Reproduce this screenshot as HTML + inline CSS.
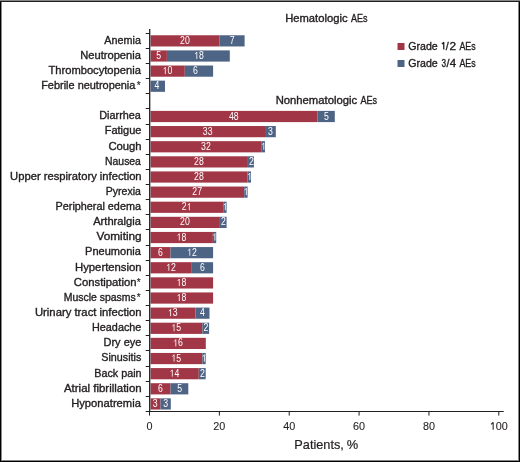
<!DOCTYPE html><html><head><meta charset="utf-8"><style>
html,body{margin:0;padding:0;background:#fff;}
body{width:520px;height:462px;overflow:hidden;position:relative;}
svg{position:absolute;left:0;top:0;display:block;will-change:transform;}
text{font-family:"Liberation Sans",sans-serif;}
.t{stroke:#231f20;stroke-width:0.35px;}
.w{}
.s{stroke:#231f20;stroke-width:0.15px;}
.tk{stroke:#231f20;stroke-width:0.1px;}
.tp{stroke:#231f20;stroke-width:0.2px;}
</style></head><body>
<svg width="520" height="462" viewBox="0 0 520 462">
<rect x="0" y="0" width="520" height="462" fill="#fff"/>
<rect x="150.60" y="35.26" width="69.00" height="11.2" fill="#a13746"/>
<g transform="translate(184.93 43.86) scale(0.87 1)"><text x="-5.56" y="0" font-size="10.0" class="w" fill="#fff">2</text><text x="0.00" y="0" font-size="10.0" class="w" fill="#fff">0</text></g>
<rect x="219.60" y="35.26" width="25.00" height="11.2" fill="#4e6485"/>
<g transform="translate(232.09 43.86) scale(0.87 1)"><text x="-2.78" y="0" font-size="10.0" class="w" fill="#fff">7</text></g>
<rect x="150.60" y="50.39" width="16.30" height="11.2" fill="#a13746"/>
<g transform="translate(158.73 58.99) scale(0.87 1)"><text x="-2.78" y="0" font-size="10.0" class="w" fill="#fff">5</text></g>
<rect x="166.90" y="50.39" width="62.90" height="11.2" fill="#4e6485"/>
<g transform="translate(198.90 58.99) scale(0.87 1)"><path d="M-2.45 0V-6.88L-4.34 -4.95" stroke="#fff" stroke-width="0.88" fill="none" stroke-linejoin="bevel"/><text x="0.00" y="0" font-size="10.0" class="w" fill="#fff">8</text></g>
<rect x="150.60" y="65.52" width="34.20" height="11.2" fill="#a13746"/>
<g transform="translate(167.47 74.12) scale(0.87 1)"><path d="M-2.45 0V-6.88L-4.34 -4.95" stroke="#fff" stroke-width="0.88" fill="none" stroke-linejoin="bevel"/><text x="0.00" y="0" font-size="10.0" class="w" fill="#fff">0</text></g>
<rect x="184.80" y="65.52" width="28.30" height="11.2" fill="#4e6485"/>
<g transform="translate(195.41 74.12) scale(0.87 1)"><text x="-2.78" y="0" font-size="10.0" class="w" fill="#fff">6</text></g>
<rect x="150.60" y="80.65" width="14.40" height="11.2" fill="#4e6485"/>
<g transform="translate(156.99 89.25) scale(0.87 1)"><text x="-2.78" y="0" font-size="10.0" class="w" fill="#fff">4</text></g>
<rect x="150.60" y="110.90" width="166.90" height="11.2" fill="#a13746"/>
<g transform="translate(233.83 119.50) scale(0.87 1)"><text x="-5.56" y="0" font-size="10.0" class="w" fill="#fff">4</text><text x="0.00" y="0" font-size="10.0" class="w" fill="#fff">8</text></g>
<rect x="317.50" y="110.90" width="17.30" height="11.2" fill="#4e6485"/>
<g transform="translate(326.40 119.50) scale(0.87 1)"><text x="-2.78" y="0" font-size="10.0" class="w" fill="#fff">5</text></g>
<rect x="150.60" y="126.03" width="114.40" height="11.2" fill="#a13746"/>
<g transform="translate(207.63 134.63) scale(0.87 1)"><text x="-5.56" y="0" font-size="10.0" class="w" fill="#fff">3</text><text x="0.00" y="0" font-size="10.0" class="w" fill="#fff">3</text></g>
<rect x="265.00" y="126.03" width="10.80" height="11.2" fill="#4e6485"/>
<g transform="translate(270.51 134.63) scale(0.87 1)"><text x="-2.78" y="0" font-size="10.0" class="w" fill="#fff">3</text></g>
<rect x="150.60" y="141.16" width="110.60" height="11.2" fill="#a13746"/>
<g transform="translate(205.89 149.76) scale(0.87 1)"><text x="-5.56" y="0" font-size="10.0" class="w" fill="#fff">3</text><text x="0.00" y="0" font-size="10.0" class="w" fill="#fff">2</text></g>
<rect x="261.20" y="141.16" width="3.80" height="11.2" fill="#4e6485"/>
<g transform="translate(263.52 149.76) scale(0.87 1)"><path d="M0.33 0V-6.88L-1.56 -4.95" stroke="#fff" stroke-width="0.88" fill="none" stroke-linejoin="bevel"/></g>
<rect x="150.60" y="156.29" width="97.30" height="11.2" fill="#a13746"/>
<g transform="translate(198.90 164.89) scale(0.87 1)"><text x="-5.56" y="0" font-size="10.0" class="w" fill="#fff">2</text><text x="0.00" y="0" font-size="10.0" class="w" fill="#fff">8</text></g>
<rect x="247.90" y="156.29" width="6.00" height="11.2" fill="#4e6485"/>
<g transform="translate(251.30 164.89) scale(0.87 1)"><text x="-2.78" y="0" font-size="10.0" class="w" fill="#fff">2</text></g>
<rect x="150.60" y="171.42" width="97.00" height="11.2" fill="#a13746"/>
<g transform="translate(198.90 180.02) scale(0.87 1)"><text x="-5.56" y="0" font-size="10.0" class="w" fill="#fff">2</text><text x="0.00" y="0" font-size="10.0" class="w" fill="#fff">8</text></g>
<rect x="247.60" y="171.42" width="3.40" height="11.2" fill="#4e6485"/>
<g transform="translate(249.55 180.02) scale(0.87 1)"><path d="M0.33 0V-6.88L-1.56 -4.95" stroke="#fff" stroke-width="0.88" fill="none" stroke-linejoin="bevel"/></g>
<rect x="150.60" y="186.54" width="93.60" height="11.2" fill="#a13746"/>
<g transform="translate(197.16 195.14) scale(0.87 1)"><text x="-5.56" y="0" font-size="10.0" class="w" fill="#fff">2</text><text x="0.00" y="0" font-size="10.0" class="w" fill="#fff">7</text></g>
<rect x="244.20" y="186.54" width="3.40" height="11.2" fill="#4e6485"/>
<g transform="translate(246.06 195.14) scale(0.87 1)"><path d="M0.33 0V-6.88L-1.56 -4.95" stroke="#fff" stroke-width="0.88" fill="none" stroke-linejoin="bevel"/></g>
<rect x="150.60" y="201.67" width="72.60" height="11.2" fill="#a13746"/>
<g transform="translate(186.68 210.27) scale(0.87 1)"><text x="-5.56" y="0" font-size="10.0" class="w" fill="#fff">2</text><path d="M3.11 0V-6.88L1.22 -4.95" stroke="#fff" stroke-width="0.88" fill="none" stroke-linejoin="bevel"/></g>
<rect x="223.20" y="201.67" width="3.40" height="11.2" fill="#4e6485"/>
<g transform="translate(225.10 210.27) scale(0.87 1)"><path d="M0.33 0V-6.88L-1.56 -4.95" stroke="#fff" stroke-width="0.88" fill="none" stroke-linejoin="bevel"/></g>
<rect x="150.60" y="216.80" width="69.30" height="11.2" fill="#a13746"/>
<g transform="translate(184.93 225.40) scale(0.87 1)"><text x="-5.56" y="0" font-size="10.0" class="w" fill="#fff">2</text><text x="0.00" y="0" font-size="10.0" class="w" fill="#fff">0</text></g>
<rect x="219.90" y="216.80" width="6.70" height="11.2" fill="#4e6485"/>
<g transform="translate(223.35 225.40) scale(0.87 1)"><text x="-2.78" y="0" font-size="10.0" class="w" fill="#fff">2</text></g>
<rect x="150.60" y="231.93" width="62.30" height="11.2" fill="#a13746"/>
<g transform="translate(181.44 240.53) scale(0.87 1)"><path d="M-2.45 0V-6.88L-4.34 -4.95" stroke="#fff" stroke-width="0.88" fill="none" stroke-linejoin="bevel"/><text x="0.00" y="0" font-size="10.0" class="w" fill="#fff">8</text></g>
<rect x="212.90" y="231.93" width="3.30" height="11.2" fill="#4e6485"/>
<g transform="translate(214.62 240.53) scale(0.87 1)"><path d="M0.33 0V-6.88L-1.56 -4.95" stroke="#fff" stroke-width="0.88" fill="none" stroke-linejoin="bevel"/></g>
<rect x="150.60" y="247.06" width="19.90" height="11.2" fill="#a13746"/>
<g transform="translate(160.48 255.66) scale(0.87 1)"><text x="-2.78" y="0" font-size="10.0" class="w" fill="#fff">6</text></g>
<rect x="170.50" y="247.06" width="42.60" height="11.2" fill="#4e6485"/>
<g transform="translate(191.92 255.66) scale(0.87 1)"><path d="M-2.45 0V-6.88L-4.34 -4.95" stroke="#fff" stroke-width="0.88" fill="none" stroke-linejoin="bevel"/><text x="0.00" y="0" font-size="10.0" class="w" fill="#fff">2</text></g>
<rect x="150.60" y="262.18" width="41.20" height="11.2" fill="#a13746"/>
<g transform="translate(170.96 270.78) scale(0.87 1)"><path d="M-2.45 0V-6.88L-4.34 -4.95" stroke="#fff" stroke-width="0.88" fill="none" stroke-linejoin="bevel"/><text x="0.00" y="0" font-size="10.0" class="w" fill="#fff">2</text></g>
<rect x="191.80" y="262.18" width="21.30" height="11.2" fill="#4e6485"/>
<g transform="translate(202.39 270.78) scale(0.87 1)"><text x="-2.78" y="0" font-size="10.0" class="w" fill="#fff">6</text></g>
<rect x="150.60" y="277.31" width="62.50" height="11.2" fill="#a13746"/>
<g transform="translate(181.44 285.91) scale(0.87 1)"><path d="M-2.45 0V-6.88L-4.34 -4.95" stroke="#fff" stroke-width="0.88" fill="none" stroke-linejoin="bevel"/><text x="0.00" y="0" font-size="10.0" class="w" fill="#fff">8</text></g>
<rect x="150.60" y="292.44" width="62.50" height="11.2" fill="#a13746"/>
<g transform="translate(181.44 301.04) scale(0.87 1)"><path d="M-2.45 0V-6.88L-4.34 -4.95" stroke="#fff" stroke-width="0.88" fill="none" stroke-linejoin="bevel"/><text x="0.00" y="0" font-size="10.0" class="w" fill="#fff">8</text></g>
<rect x="150.60" y="307.57" width="44.80" height="11.2" fill="#a13746"/>
<g transform="translate(172.70 316.17) scale(0.87 1)"><path d="M-2.45 0V-6.88L-4.34 -4.95" stroke="#fff" stroke-width="0.88" fill="none" stroke-linejoin="bevel"/><text x="0.00" y="0" font-size="10.0" class="w" fill="#fff">3</text></g>
<rect x="195.40" y="307.57" width="14.10" height="11.2" fill="#4e6485"/>
<g transform="translate(202.39 316.17) scale(0.87 1)"><text x="-2.78" y="0" font-size="10.0" class="w" fill="#fff">4</text></g>
<rect x="150.60" y="322.70" width="51.70" height="11.2" fill="#a13746"/>
<g transform="translate(176.20 331.30) scale(0.87 1)"><path d="M-2.45 0V-6.88L-4.34 -4.95" stroke="#fff" stroke-width="0.88" fill="none" stroke-linejoin="bevel"/><text x="0.00" y="0" font-size="10.0" class="w" fill="#fff">5</text></g>
<rect x="202.30" y="322.70" width="6.80" height="11.2" fill="#4e6485"/>
<g transform="translate(205.89 331.30) scale(0.87 1)"><text x="-2.78" y="0" font-size="10.0" class="w" fill="#fff">2</text></g>
<rect x="150.60" y="337.82" width="55.20" height="11.2" fill="#a13746"/>
<g transform="translate(177.94 346.42) scale(0.87 1)"><path d="M-2.45 0V-6.88L-4.34 -4.95" stroke="#fff" stroke-width="0.88" fill="none" stroke-linejoin="bevel"/><text x="0.00" y="0" font-size="10.0" class="w" fill="#fff">6</text></g>
<rect x="150.60" y="352.95" width="51.70" height="11.2" fill="#a13746"/>
<g transform="translate(176.20 361.55) scale(0.87 1)"><path d="M-2.45 0V-6.88L-4.34 -4.95" stroke="#fff" stroke-width="0.88" fill="none" stroke-linejoin="bevel"/><text x="0.00" y="0" font-size="10.0" class="w" fill="#fff">5</text></g>
<rect x="202.30" y="352.95" width="3.40" height="11.2" fill="#4e6485"/>
<g transform="translate(204.14 361.55) scale(0.87 1)"><path d="M0.33 0V-6.88L-1.56 -4.95" stroke="#fff" stroke-width="0.88" fill="none" stroke-linejoin="bevel"/></g>
<rect x="150.60" y="368.08" width="48.20" height="11.2" fill="#a13746"/>
<g transform="translate(174.45 376.68) scale(0.87 1)"><path d="M-2.45 0V-6.88L-4.34 -4.95" stroke="#fff" stroke-width="0.88" fill="none" stroke-linejoin="bevel"/><text x="0.00" y="0" font-size="10.0" class="w" fill="#fff">4</text></g>
<rect x="198.80" y="368.08" width="6.90" height="11.2" fill="#4e6485"/>
<g transform="translate(202.39 376.68) scale(0.87 1)"><text x="-2.78" y="0" font-size="10.0" class="w" fill="#fff">2</text></g>
<rect x="150.60" y="383.21" width="19.90" height="11.2" fill="#a13746"/>
<g transform="translate(160.48 391.81) scale(0.87 1)"><text x="-2.78" y="0" font-size="10.0" class="w" fill="#fff">6</text></g>
<rect x="170.50" y="383.21" width="17.80" height="11.2" fill="#4e6485"/>
<g transform="translate(179.69 391.81) scale(0.87 1)"><text x="-2.78" y="0" font-size="10.0" class="w" fill="#fff">5</text></g>
<rect x="150.60" y="398.34" width="9.90" height="11.2" fill="#a13746"/>
<g transform="translate(155.24 406.94) scale(0.87 1)"><text x="-2.78" y="0" font-size="10.0" class="w" fill="#fff">3</text></g>
<rect x="160.50" y="398.34" width="10.30" height="11.2" fill="#4e6485"/>
<g transform="translate(165.72 406.94) scale(0.87 1)"><text x="-2.78" y="0" font-size="10.0" class="w" fill="#fff">3</text></g>
<g stroke="#231f20" stroke-width="1.2" fill="none">
<line x1="149.7" y1="29" x2="149.7" y2="412" stroke-width="1.3"/>
<line x1="149.4" y1="411.5" x2="503.7" y2="411.5"/>
<line x1="145.7" y1="33.50" x2="150.0" y2="33.50" stroke-width="1"/>
<line x1="145.7" y1="48.50" x2="150.0" y2="48.50" stroke-width="1"/>
<line x1="145.7" y1="63.50" x2="150.0" y2="63.50" stroke-width="1"/>
<line x1="145.7" y1="78.50" x2="150.0" y2="78.50" stroke-width="1"/>
<line x1="145.7" y1="93.50" x2="150.0" y2="93.50" stroke-width="1"/>
<line x1="145.7" y1="108.50" x2="150.0" y2="108.50" stroke-width="1"/>
<line x1="145.7" y1="124.50" x2="150.0" y2="124.50" stroke-width="1"/>
<line x1="145.7" y1="139.50" x2="150.0" y2="139.50" stroke-width="1"/>
<line x1="145.7" y1="154.50" x2="150.0" y2="154.50" stroke-width="1"/>
<line x1="145.7" y1="169.50" x2="150.0" y2="169.50" stroke-width="1"/>
<line x1="145.7" y1="184.50" x2="150.0" y2="184.50" stroke-width="1"/>
<line x1="145.7" y1="199.50" x2="150.0" y2="199.50" stroke-width="1"/>
<line x1="145.7" y1="214.50" x2="150.0" y2="214.50" stroke-width="1"/>
<line x1="145.7" y1="229.50" x2="150.0" y2="229.50" stroke-width="1"/>
<line x1="145.7" y1="245.50" x2="150.0" y2="245.50" stroke-width="1"/>
<line x1="145.7" y1="260.50" x2="150.0" y2="260.50" stroke-width="1"/>
<line x1="145.7" y1="275.50" x2="150.0" y2="275.50" stroke-width="1"/>
<line x1="145.7" y1="290.50" x2="150.0" y2="290.50" stroke-width="1"/>
<line x1="145.7" y1="305.50" x2="150.0" y2="305.50" stroke-width="1"/>
<line x1="145.7" y1="320.50" x2="150.0" y2="320.50" stroke-width="1"/>
<line x1="145.7" y1="335.50" x2="150.0" y2="335.50" stroke-width="1"/>
<line x1="145.7" y1="350.50" x2="150.0" y2="350.50" stroke-width="1"/>
<line x1="145.7" y1="366.50" x2="150.0" y2="366.50" stroke-width="1"/>
<line x1="145.7" y1="381.50" x2="150.0" y2="381.50" stroke-width="1"/>
<line x1="145.7" y1="396.50" x2="150.0" y2="396.50" stroke-width="1"/>
<line x1="145.7" y1="411.50" x2="150.0" y2="411.50" stroke-width="1"/>
<line x1="149.50" y1="411.5" x2="149.50" y2="415.6" stroke-width="1"/>
<line x1="219.36" y1="411.5" x2="219.36" y2="415.6" stroke-width="1"/>
<line x1="289.22" y1="411.5" x2="289.22" y2="415.6" stroke-width="1"/>
<line x1="359.08" y1="411.5" x2="359.08" y2="415.6" stroke-width="1"/>
<line x1="428.94" y1="411.5" x2="428.94" y2="415.6" stroke-width="1"/>
<line x1="498.80" y1="411.5" x2="498.80" y2="415.6" stroke-width="1"/>
</g>
<text x="136.70" y="89.08" font-size="10.0" fill="#231f20" class="s">*</text>
<text x="136.70" y="285.75" font-size="10.0" fill="#231f20" class="s">*</text>
<text x="136.70" y="300.88" font-size="10.0" fill="#231f20" class="s">*</text>
<path d="M443.75 49.5V42.21L441.9 44.10" stroke="#231f20" stroke-width="1.28" fill="none" stroke-linejoin="bevel"/>
<text x="104.38" y="43.70" font-size="10.6" class="t" fill="#231f20" textLength="36.52" lengthAdjust="spacingAndGlyphs">Anemia</text>
<text x="80.19" y="58.83" font-size="10.6" class="t" fill="#231f20" textLength="60.71" lengthAdjust="spacingAndGlyphs">Neutropenia</text>
<text x="48.45" y="73.96" font-size="10.6" class="t" fill="#231f20" textLength="92.45" lengthAdjust="spacingAndGlyphs">Thrombocytopenia</text>
<text x="41.20" y="89.08" font-size="10.6" class="t" fill="#231f20" textLength="94.20" lengthAdjust="spacingAndGlyphs">Febrile neutropenia</text>
<text x="99.21" y="119.34" font-size="10.6" class="t" fill="#231f20" textLength="41.69" lengthAdjust="spacingAndGlyphs">Diarrhea</text>
<text x="104.70" y="134.47" font-size="10.6" class="t" fill="#231f20" textLength="36.69" lengthAdjust="spacingAndGlyphs">Fatigue</text>
<text x="108.43" y="149.60" font-size="10.6" class="t" fill="#231f20" textLength="33.20" lengthAdjust="spacingAndGlyphs">Cough</text>
<text x="105.05" y="164.72" font-size="10.6" class="t" fill="#231f20" textLength="35.85" lengthAdjust="spacingAndGlyphs">Nausea</text>
<text x="10.13" y="179.85" font-size="10.6" class="t" fill="#231f20" textLength="131.49" lengthAdjust="spacingAndGlyphs">Upper respiratory infection</text>
<text x="105.84" y="194.98" font-size="10.6" class="t" fill="#231f20" textLength="35.06" lengthAdjust="spacingAndGlyphs">Pyrexia</text>
<text x="55.61" y="210.11" font-size="10.6" class="t" fill="#231f20" textLength="85.29" lengthAdjust="spacingAndGlyphs">Peripheral edema</text>
<text x="93.18" y="225.24" font-size="10.6" class="t" fill="#231f20" textLength="47.72" lengthAdjust="spacingAndGlyphs">Arthralgia</text>
<text x="96.55" y="240.36" font-size="10.6" class="t" fill="#231f20" textLength="45.11" lengthAdjust="spacingAndGlyphs">Vomiting</text>
<text x="85.09" y="255.49" font-size="10.6" class="t" fill="#231f20" textLength="55.81" lengthAdjust="spacingAndGlyphs">Pneumonia</text>
<text x="74.97" y="270.62" font-size="10.6" class="t" fill="#231f20" textLength="66.66" lengthAdjust="spacingAndGlyphs">Hypertension</text>
<text x="73.83" y="285.75" font-size="10.6" class="t" fill="#231f20" textLength="62.71" lengthAdjust="spacingAndGlyphs">Constipation</text>
<text x="63.74" y="300.88" font-size="10.6" class="t" fill="#231f20" textLength="72.04" lengthAdjust="spacingAndGlyphs">Muscle spasms</text>
<text x="34.93" y="316.00" font-size="10.6" class="t" fill="#231f20" textLength="106.71" lengthAdjust="spacingAndGlyphs">Urinary tract infection</text>
<text x="92.01" y="331.13" font-size="10.6" class="t" fill="#231f20" textLength="49.37" lengthAdjust="spacingAndGlyphs">Headache</text>
<text x="103.50" y="346.26" font-size="10.6" class="t" fill="#231f20" textLength="37.89" lengthAdjust="spacingAndGlyphs">Dry eye</text>
<text x="101.31" y="361.39" font-size="10.6" class="t" fill="#231f20" textLength="39.98" lengthAdjust="spacingAndGlyphs">Sinusitis</text>
<text x="94.32" y="376.52" font-size="10.6" class="t" fill="#231f20" textLength="47.28" lengthAdjust="spacingAndGlyphs">Back pain</text>
<text x="63.98" y="391.64" font-size="10.6" class="t" fill="#231f20" textLength="77.67" lengthAdjust="spacingAndGlyphs">Atrial fibrillation</text>
<text x="71.18" y="406.77" font-size="10.6" class="t" fill="#231f20" textLength="69.72" lengthAdjust="spacingAndGlyphs">Hyponatremia</text>
<text x="285.18" y="21.60" font-size="10.6" class="t" fill="#231f20" textLength="62.32" lengthAdjust="spacingAndGlyphs">Hematologic</text>
<text x="350.98" y="21.60" font-size="10.6" class="t" fill="#231f20" textLength="16.54" lengthAdjust="spacingAndGlyphs">AEs</text>
<text x="275.68" y="103.60" font-size="10.6" class="t" fill="#231f20" textLength="81.42" lengthAdjust="spacingAndGlyphs">Nonhematologic</text>
<text x="360.38" y="103.60" font-size="10.6" class="t" fill="#231f20" textLength="16.75" lengthAdjust="spacingAndGlyphs">AEs</text>
<text x="408.27" y="49.50" font-size="10.6" class="t" fill="#231f20" textLength="29.51" lengthAdjust="spacingAndGlyphs">Grade</text>
<text x="459.38" y="49.50" font-size="10.6" class="t" fill="#231f20" textLength="16.24" lengthAdjust="spacingAndGlyphs">AEs</text>
<text x="408.27" y="66.50" font-size="10.6" class="t" fill="#231f20" textLength="29.51" lengthAdjust="spacingAndGlyphs">Grade</text>
<text x="459.38" y="66.50" font-size="10.6" class="t" fill="#231f20" textLength="16.24" lengthAdjust="spacingAndGlyphs">AEs</text>
<text x="445.80" y="49.50" font-size="10.6" class="t" fill="#231f20" textLength="3.00" lengthAdjust="spacingAndGlyphs">/</text>
<text x="449.41" y="49.50" font-size="10.6" class="t" fill="#231f20" textLength="6.59" lengthAdjust="spacingAndGlyphs">2</text>
<text x="441.59" y="66.50" font-size="10.6" class="t" fill="#231f20" textLength="4.57" lengthAdjust="spacingAndGlyphs">3</text>
<text x="446.50" y="66.50" font-size="10.6" class="t" fill="#231f20" textLength="3.00" lengthAdjust="spacingAndGlyphs">/</text>
<text x="449.74" y="66.50" font-size="10.6" class="t" fill="#231f20" textLength="6.40" lengthAdjust="spacingAndGlyphs">4</text>
<text x="294.36" y="449.00" font-size="12.6" class="tp" fill="#231f20" textLength="49.49" lengthAdjust="spacingAndGlyphs">Patients,</text>
<text x="346.84" y="449.00" font-size="12.6" class="tp" fill="#231f20" textLength="11.42" lengthAdjust="spacingAndGlyphs">%</text>
<g transform="translate(149.50 429.80) scale(1.0 1)"><text x="-3.00" y="0" font-size="10.8" class="tk" fill="#231f20">0</text></g>
<g transform="translate(219.36 429.80) scale(1.0 1)"><text x="-6.01" y="0" font-size="10.8" class="tk" fill="#231f20">2</text><text x="0.00" y="0" font-size="10.8" class="tk" fill="#231f20">0</text></g>
<g transform="translate(289.22 429.80) scale(1.0 1)"><text x="-6.01" y="0" font-size="10.8" class="tk" fill="#231f20">4</text><text x="0.00" y="0" font-size="10.8" class="tk" fill="#231f20">0</text></g>
<g transform="translate(359.08 429.80) scale(1.0 1)"><text x="-6.01" y="0" font-size="10.8" class="tk" fill="#231f20">6</text><text x="0.00" y="0" font-size="10.8" class="tk" fill="#231f20">0</text></g>
<g transform="translate(428.94 429.80) scale(1.0 1)"><text x="-6.01" y="0" font-size="10.8" class="tk" fill="#231f20">8</text><text x="0.00" y="0" font-size="10.8" class="tk" fill="#231f20">0</text></g>
<g transform="translate(498.80 429.80) scale(1.0 1)"><path d="M-5.65 0V-7.43L-7.69 -5.35" stroke="#231f20" stroke-width="1.05" fill="none" stroke-linejoin="bevel"/><text x="-3.00" y="0" font-size="10.8" class="tk" fill="#231f20">0</text><text x="3.00" y="0" font-size="10.8" class="tk" fill="#231f20">0</text></g>
<rect x="397.5" y="43" width="7" height="7" fill="#a13746"/>
<rect x="397.5" y="60" width="7" height="7" fill="#4e6485"/>
<rect x="1" y="0" width="1" height="462" fill="#8a8a8a"/>
<rect x="518" y="0" width="1" height="462" fill="#858585"/>
<rect x="0" y="460" width="520" height="1" fill="#858585"/>
<rect x="0" y="0" width="1" height="462" fill="#000"/>
<rect x="519" y="0" width="1" height="462" fill="#000"/>
<rect x="0" y="461" width="520" height="1" fill="#000"/>
<rect x="0" y="1" width="520" height="1" fill="#202020"/>
<rect x="0" y="0" width="520" height="1" fill="#868686"/>
</svg></body></html>
